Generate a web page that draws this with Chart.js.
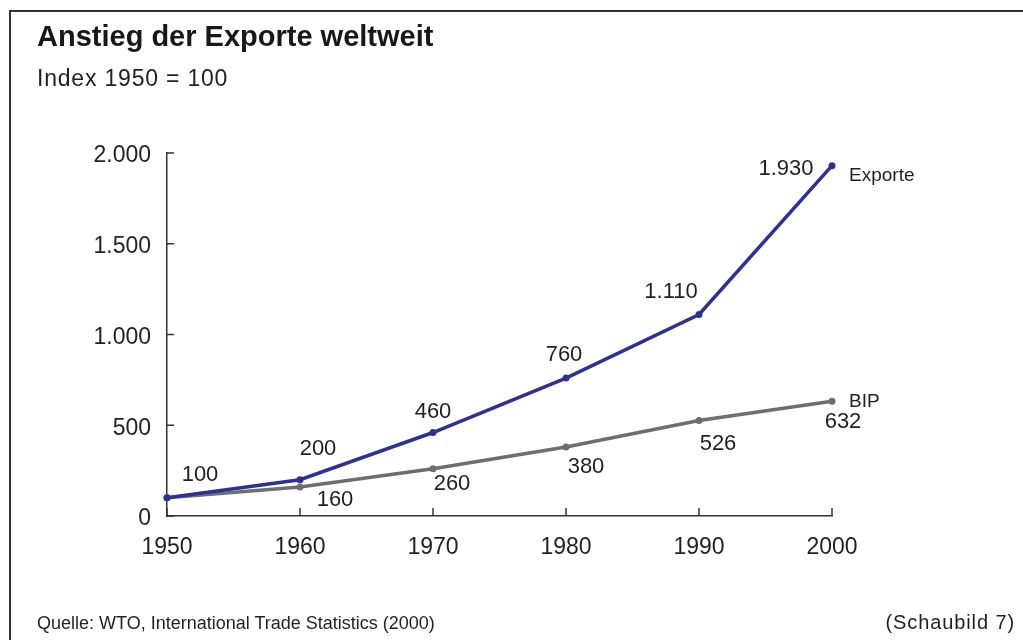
<!DOCTYPE html>
<html>
<head>
<meta charset="utf-8">
<script src="https://cdn.jsdelivr.net/npm/chart.js@4.4.1/dist/chart.umd.min.js"></script>
<style>
    html, body { margin: 0; padding: 0; background: #fff; }
    body { width: 1023px; height: 640px; position: relative; overflow: hidden; font-family: "Liberation Sans", Arial, sans-serif; color: #231f20; }
    #frame { position: absolute; left: 9px; top: 10px; right: -10px; bottom: -10px; border-top: 2px solid #333; border-left: 2px solid #333; }
    .txt { position: absolute; line-height: 1; white-space: nowrap; }
    #title { left: 37px; top: 22px; font-size: 29px; font-weight: bold; color: #1a1718; }
    #subtitle { left: 37px; top: 67px; font-size: 23px; letter-spacing: 0.8px; }
    #source { left: 37px; top: 614px; font-size: 18px; }
    #figno { right: 8px; top: 612px; font-size: 20px; letter-spacing: 0.9px; }
    canvas { position: absolute; left: 0; top: 0; }
</style>
</head>
<body>
<div id="frame"></div>
<canvas id="chart" width="1023" height="640"></canvas>
<div class="txt" id="title">Anstieg der Exporte weltweit</div>
<div class="txt" id="subtitle">Index 1950 = 100</div>
<div class="txt" id="source">Quelle: WTO, International Trade Statistics (2000)</div>
<div class="txt" id="figno">(Schaubild 7)</div>
<script>
(function () {
    "use strict";

    const years = ["1950", "1960", "1970", "1980", "1990", "2000"];
    const exporte = [100, 200, 460, 760, 1110, 1930];
    const bip = [100, 160, 260, 380, 526, 632];
    const yTicks = [0, 500, 1000, 1500, 2000];

    // label offsets (text centre relative to the point), null = no label
    const exportLabelPos = [[33, -23], [18, -31], [0, -21], [-2, -23], [-28, -23], [-46, 3]];
    const bipLabelPos = [null, [35, 13], [19, 15], [20, 20], [19, 23], [11, 21]];

    const blue = "#2e3192";
    const grey = "#6d6e71";
    const ink = "#231f20";
    const font = "'Liberation Sans', Arial, sans-serif";

    const fmt = (v) => String(v).replace(/\B(?=(\d{3})+(?!\d))/g, ".");

    const valueLabels = {
        id: "valueLabels",
        afterDatasetsDraw(chart) {
            const ctx = chart.ctx;
            ctx.save();
            ctx.fillStyle = ink;
            ctx.font = "22px " + font;
            ctx.textAlign = "center";
            ctx.textBaseline = "middle";
            chart.data.datasets.forEach((ds, di) => {
                const meta = chart.getDatasetMeta(di);
                meta.data.forEach((pt, i) => {
                    const off = ds.labelPos[i];
                    if (!off) return;
                    ctx.fillText(fmt(ds.data[i]), pt.x + off[0], pt.y + off[1]);
                });
                // series name at the end of the line
                const last = meta.data[meta.data.length - 1];
                ctx.save();
                ctx.font = "19px " + font;
                ctx.textAlign = "left";
                ctx.fillText(ds.label, last.x + 17, last.y + ds.nameDy);
                ctx.restore();
            });
            ctx.restore();
        },
    };

    // short tick marks pointing into the plot
    const innerTicks = {
        id: "innerTicks",
        afterDraw(chart) {
            const { ctx, chartArea, scales } = chart;
            ctx.save();
            ctx.strokeStyle = "#333";
            ctx.lineWidth = 1.5;
            ctx.beginPath();
            yTicks.forEach((v) => {
                const y = scales.y.getPixelForValue(v);
                ctx.moveTo(chartArea.left, y);
                ctx.lineTo(chartArea.left + 7, y);
            });
            years.forEach((_, i) => {
                const x = scales.x.getPixelForValue(i);
                ctx.moveTo(x, chartArea.bottom);
                ctx.lineTo(x, chartArea.bottom - 8);
            });
            ctx.stroke();
            ctx.restore();
        },
    };

    const ctx = document.getElementById("chart").getContext("2d");
    new Chart(ctx, {
        type: "line",
        data: {
            labels: years,
            datasets: [
                {
                    label: "Exporte",
                    data: exporte,
                    borderColor: blue,
                    backgroundColor: blue,
                    borderWidth: 3.5,
                    pointRadius: 3.5,
                    pointBackgroundColor: blue,
                    pointBorderWidth: 0,
                    tension: 0,
                    clip: false,
                    labelPos: exportLabelPos,
                    nameDy: 10,
                },
                {
                    label: "BIP",
                    data: bip,
                    borderColor: grey,
                    backgroundColor: grey,
                    borderWidth: 3.5,
                    pointRadius: 3.5,
                    pointBackgroundColor: grey,
                    pointBorderWidth: 0,
                    tension: 0,
                    clip: false,
                    labelPos: bipLabelPos,
                    nameDy: 0,
                },
            ],
        },
        options: {
            responsive: false,
            animation: false,
            layout: {
                padding: { left: 37, right: 191, top: 153, bottom: 64 },
            },
            plugins: {
                legend: { display: false },
                tooltip: { enabled: false },
            },
            scales: {
                x: {
                    offset: false,
                    grid: { display: false, drawTicks: false },
                    border: { display: true, color: "#333", width: 1.5 },
                    ticks: { color: ink, font: { family: font, size: 23 }, padding: 18, maxRotation: 0 },
                    afterFit: (s) => { s.height = 60; },
                },
                y: {
                    min: 0,
                    max: 2000,
                    grid: { display: false, drawTicks: false },
                    border: { display: true, color: "#333", width: 1.5 },
                    ticks: {
                        stepSize: 500,
                        color: ink,
                        font: { family: font, size: 23 },
                        padding: 16,
                        labelOffset: 3,
                        callback: (v) => fmt(v),
                    },
                    afterFit: (s) => { s.width = 130; },
                },
            },
        },
        plugins: [valueLabels, innerTicks],
    });
})();
</script>
</body>
</html>
